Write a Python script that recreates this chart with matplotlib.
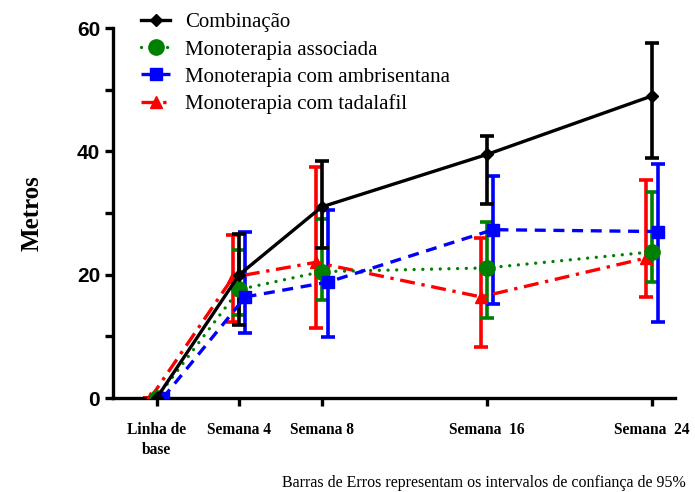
import numpy as np
import matplotlib
matplotlib.use("Agg")
import matplotlib.pyplot as plt

# weeks on the x axis and their tick labels
weeks = [0, 4, 8, 16, 24]
tick_labels = ["Linha de\nbase", "Semana 4", "Semana 8", "Semana  16", "Semana  24"]

# means and asymmetric 95% CI bounds
comb = [0, 20, 31, 39.5, 49]
comb_lo = [0, 11.8, 24.3, 31.4, 39]
comb_hi = [0, 26.6, 38.5, 42.5, 57.5]

assoc = [0, 17.6, 20.5, 21.1, 23.7]
assoc_lo = [0, 13.4, 15.9, 13.0, 18.8]
assoc_hi = [0, 24.0, 29.0, 28.5, 33.4]

ambr = [0, 16.4, 18.8, 27.3, 27.0]
ambr_lo = [0, 10.5, 9.9, 15.2, 12.4]
ambr_hi = [0, 27.0, 30.5, 36.0, 38.0]

tada = [0, 19.6, 22.0, 16.4, 22.7]
tada_lo = [0, 12.3, 11.4, 8.3, 16.4]
tada_hi = [0, 26.5, 37.5, 26.0, 35.3]

series = [
    # label, values, lo, hi, color, linestyle, marker, ms, x shift
    ("Monoterapia com tadalafil", tada, tada_lo, tada_hi, "#ff0000", (0, (4.5, 2, 1, 2)), "^", 9, -0.3),
    ("Monoterapia associada", assoc, assoc_lo, assoc_hi, "#008000", (0, (0.01, 2.6)), "o", 11, 0.0),
    ("Monoterapia com ambrisentana", ambr, ambr_lo, ambr_hi, "#0000ff", (0, (3.3, 2.3)), "s", 9, 0.3),
    ("Combinação", comb, comb_lo, comb_hi, "black", "-", "D", 6, 0.0),
]

fig = plt.figure(figsize=(6.95, 4.92), dpi=100)
ax = fig.add_axes([0.163, 0.191, 0.808, 0.752])

handles = {}
for label, vals, lo, hi, col, ls, mk, ms, dx in series:
    x = np.array(weeks) + dx
    v = np.array(vals)
    yerr = [v - np.array(lo), np.array(hi) - v]
    ax.errorbar(x, v, yerr=yerr, color=col, ecolor=col, elinewidth=2.6,
                capsize=5, capthick=2.6, fmt="none", zorder=2)
    ln, = ax.plot(x, v, color=col, linestyle=ls, linewidth=2.4, marker=mk,
                  markersize=ms, dash_capstyle="round" if mk == "o" else "butt",
                  zorder=3)
    handles[label] = ln

ax.set_xlim(-2.1, 25.1)
ax.set_ylim(0, 60)
ax.set_yticks([0, 20, 40, 60])
ax.set_yticks([10, 30, 50], minor=True)
ax.set_xticks(weeks)
ax.set_xticklabels(tick_labels, fontfamily="Liberation Serif", fontweight="bold",
                   fontsize=11.2, linespacing=1.35)
for t in ax.get_yticklabels():
    t.set_fontfamily("Liberation Sans")
    t.set_fontweight("bold")
    t.set_fontsize(15)

for s in ["top", "right"]:
    ax.spines[s].set_visible(False)
for s in ["left", "bottom"]:
    ax.spines[s].set_linewidth(2.4)
ax.tick_params(which="both", width=2.4, length=6, direction="out")
ax.tick_params(axis="x", pad=11)

ax.set_ylabel("Metros", fontfamily="Liberation Serif", fontweight="bold", fontsize=18, labelpad=24)

order = ["Combinação", "Monoterapia associada", "Monoterapia com ambrisentana", "Monoterapia com tadalafil"]
ax.legend([handles[k] for k in order], order, loc="upper left",
          bbox_to_anchor=(0.176, 1.012), bbox_transform=fig.transFigure,
          frameon=False, handlelength=1.4, labelspacing=0.36, handletextpad=0.7,
          prop={"family": "Liberation Serif", "size": 15})

fig.text(0.987, 0.003, "Barras de Erros representam os intervalos de confiança de 95%",
         ha="right", va="bottom", fontfamily="Liberation Serif", fontsize=11.5)

fig.savefig("out.png", dpi=100)
